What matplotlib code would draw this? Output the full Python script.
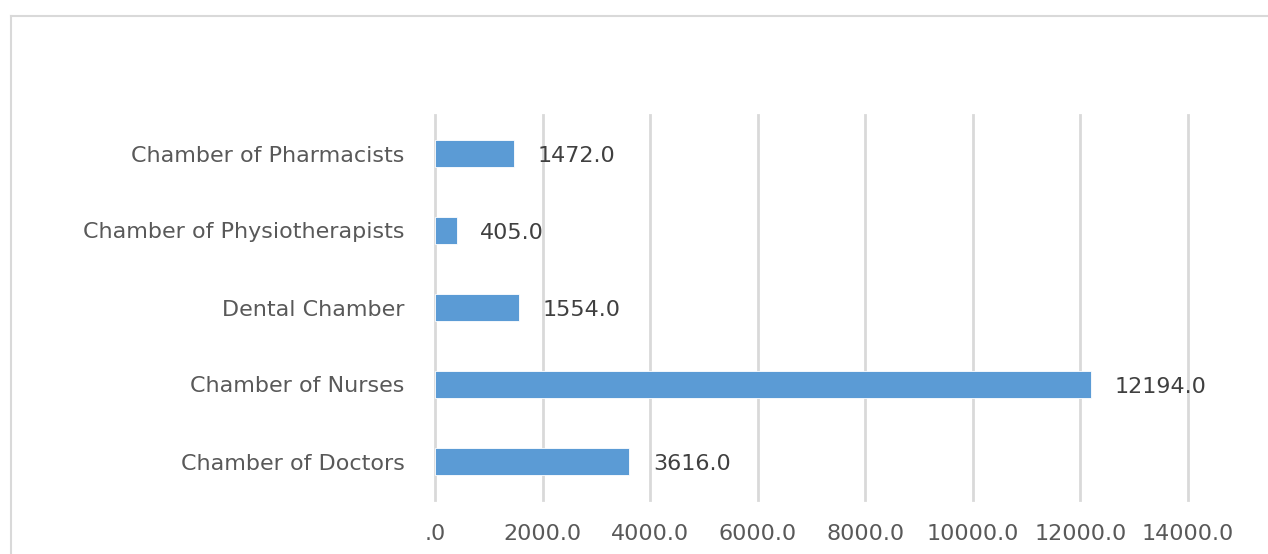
import matplotlib.pyplot as plt
from matplotlib.lines import Line2D

categories = [
    "Chamber of Doctors",
    "Chamber of Nurses",
    "Dental Chamber",
    "Chamber of Physiotherapists",
    "Chamber of Pharmacists",
]
values = [3616.0, 12194.0, 1554.0, 405.0, 1472.0]
x_ticks = [0, 2000, 4000, 6000, 8000, 10000, 12000, 14000]

BAR_COLOR = "#5B9BD5"
TICK_COLOR = "#595959"
LABEL_COLOR = "#404040"
GRID_COLOR = "#D9D9D9"

plt.rcParams["font.family"] = ["DejaVu Sans"]

W, H = 1268, 554
fig = plt.figure(figsize=(W / 100, H / 100), dpi=100)
ax = fig.add_axes([435 / W, 1 - 500 / H, (1188 - 435) / W, (500 - 115) / H])

y = range(len(categories))
ax.barh(y, values, height=0.34, color=BAR_COLOR, edgecolor="white", linewidth=0.6, zorder=3)
for yi, v in zip(y, values):
    ax.annotate(f"{v:.1f}", (v, yi), xytext=(17, -2), textcoords="offset points",
                va="center", ha="left", fontsize=16, color=LABEL_COLOR, zorder=4)

ax.set_xlim(0, 14000)
ax.set_ylim(-0.5, len(categories) - 0.5)
ax.set_xticks(x_ticks)
ax.set_xticklabels([".0" if t == 0 else f"{t:.1f}" for t in x_ticks])
ax.set_yticks(list(y))
ax.set_yticklabels(categories)
ax.tick_params(axis="both", length=0, labelsize=16, colors=TICK_COLOR)
ax.tick_params(axis="x", pad=17)
ax.tick_params(axis="y", pad=22)
ax.xaxis.grid(True, color=GRID_COLOR, linewidth=2.0, zorder=0)
for gl in ax.get_xgridlines():
    gl.set_clip_on(False)
for s in ax.spines.values():
    s.set_visible(False)

# chart frame (left and top edges visible in the crop)
fig.add_artist(Line2D([11 / W, 11 / W], [0, 1 - 16 / H], transform=fig.transFigure,
                      color="#D9D9D9", linewidth=1.5))
fig.add_artist(Line2D([11 / W, 1], [1 - 16 / H, 1 - 16 / H], transform=fig.transFigure,
                      color="#D9D9D9", linewidth=1.5))

fig.savefig("out.png", dpi=100, facecolor="white")
